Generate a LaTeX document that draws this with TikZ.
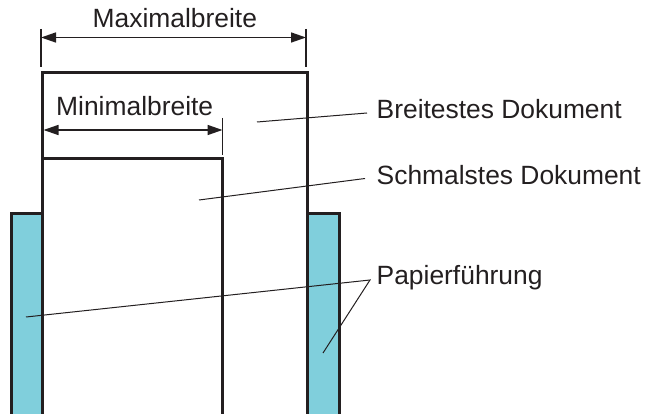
\documentclass[tikz,border=0pt]{standalone}
\usepackage{fontspec}
\setmainfont{Liberation Sans}
\usetikzlibrary{arrows.meta}
\definecolor{ink}{HTML}{231F20}
\definecolor{guide}{HTML}{80CFDC}
\begin{document}
\begin{tikzpicture}[x=1pt,y=-1pt,
  lbl/.style={anchor=base west,inner sep=0pt,text=ink,font=\fontsize{26.4}{30}\selectfont},
  body/.style={draw=ink,line width=3pt},
  guidebox/.style={draw=ink,line width=3pt,fill=guide},
  dim/.style={draw=ink,line width=1.5pt,{Triangle[length=15pt,width=10pt]}-{Triangle[length=15pt,width=10pt]}},
  ext/.style={draw=ink,line width=1.2pt},
  leader/.style={draw=ink,line width=1pt}]
\useasboundingbox (0,0) rectangle (648,414);
% guides
\path[guidebox] (11,420) -- (11,214) -- (42,214) -- (42,420);
\path[guidebox] (307,420) -- (307,214) -- (339,214) -- (339,420);
% documents
\path[body] (42,420) -- (42,73) -- (307,73) -- (307,420);
\path[body] (42,420) -- (42,159) -- (222,159) -- (222,420);
% dimension: maximal width
\coordinate (maxL) at (41,37.5);
\coordinate (maxR) at (306,37.5);
\draw[ext] (41,29) -- (41,67);
\draw[ext] (306,29) -- (306,67);
\draw[dim] (maxL) -- (maxR);
\node[lbl] (maxT) at (92.5,28) {Maximalbreite};
% dimension: minimal width
\coordinate (minL) at (43.5,130);
\coordinate (minR) at (222.5,130);
\draw[ext] (222.5,118) -- (222.5,155);
\draw[dim] (minL) -- (minR);
\node[lbl] (minT) at (56,116) {Minimalbreite};
% labels
\node[lbl] (wide) at (376.5,119) {Breitestes Dokument};
\node[lbl] (narrow) at (376.5,185) {Schmalstes Dokument};
\node[lbl] (guideT) at (376.5,284) {Papierführung};
% leaders
\coordinate (wideA) at (257,122);
\coordinate (wideB) at (367,113);
\coordinate (narA) at (199,200);
\coordinate (narB) at (365,178.5);
\coordinate (gJ) at (370,280);
\coordinate (gL) at (26,317);
\coordinate (gR) at (323,353);
\draw[leader] (wideA) -- (wideB);
\draw[leader] (narA) -- (narB);
\draw[leader] (gL) -- (gJ) -- (gR);
\end{tikzpicture}
\end{document}
